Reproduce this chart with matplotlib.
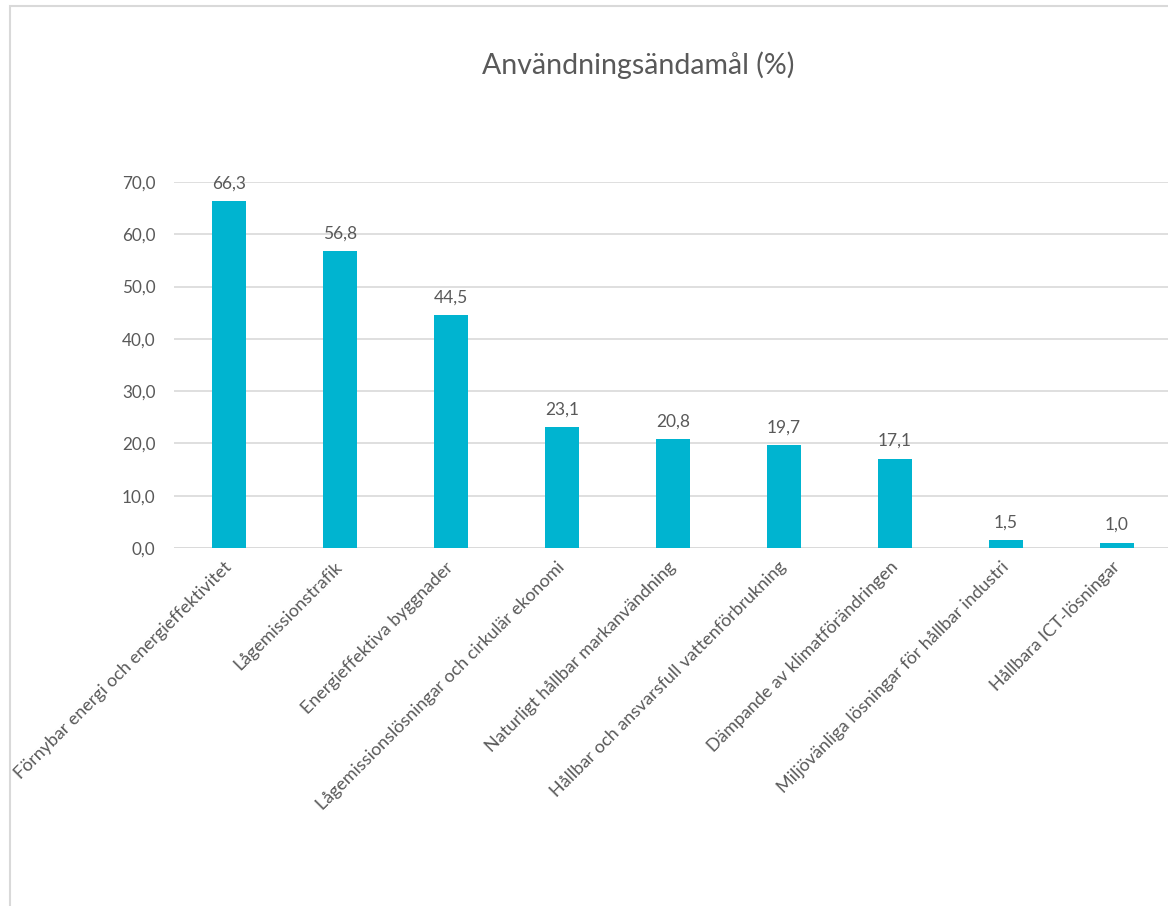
import matplotlib.pyplot as plt
from matplotlib.patches import Rectangle

categories = [
    "Förnybar energi och energieffektivitet",
    "Lågemissionstrafik",
    "Energieffektiva byggnader",
    "Lågemissionslösningar och cirkulär ekonomi",
    "Naturligt hållbar markanvändning",
    "Hållbar och ansvarsfull vattenförbrukning",
    "Dämpande av klimatförändringen",
    "Miljövänliga lösningar för hållbar industri",
    "Hållbara ICT-lösningar",
]
values = [66.3, 56.8, 44.5, 23.1, 20.8, 19.7, 17.1, 1.5, 1.0]
yticks = [0, 10, 20, 30, 40, 50, 60, 70]

plt.rcParams['font.family'] = ['Lato', 'DejaVu Sans']
grey = "#595959"

fig = plt.figure(figsize=(11.68, 9.06), dpi=100)
# chart border (left/top visible)
fig.patches.append(Rectangle((10 / 1168, -0.1), 1.2, 1.1 - 6 / 906, transform=fig.transFigure,
                             fill=False, edgecolor="#D9D9D9", linewidth=1.5))

ax = fig.add_axes([173.5 / 1168, 1 - 548 / 906, 999 / 1168, 366 / 906])
x = range(len(categories))
bars = ax.bar(x, values, width=0.31, color="#00B4D0", zorder=3)
for b, v in zip(bars, values):
    ax.annotate(f"{v:.1f}".replace(".", ","), (b.get_x() + b.get_width() / 2, v),
                xytext=(0, 7), textcoords="offset points", ha="center", va="bottom",
                fontsize=12.5, color=grey)

ax.set_xlim(-0.5, len(categories) - 0.5)
ax.set_ylim(0, 70)
ax.set_yticks(yticks)
ax.set_yticklabels([f"{t:.1f}".replace(".", ",") for t in yticks], fontsize=12.3, color=grey)
ax.set_xticks(list(x))
ax.set_xticklabels(categories, rotation=45, ha="right", va="center", rotation_mode="anchor",
                   fontsize=12.9, color=grey)
ax.tick_params(axis="both", length=0)
ax.tick_params(axis="y", pad=13)
ax.tick_params(axis="x", pad=12)
ax.grid(axis="y", color="#D9D9D9", linewidth=1.2, zorder=0)
for s in ax.spines.values():
    s.set_visible(False)
ax.axhline(0, color="#D9D9D9", linewidth=1.2, zorder=2)

fig.text(638 / 1168, 1 - 65 / 906, "Användningsändamål (%)", ha="center", va="center",
         fontsize=20.5, color=grey)

fig.savefig("out.png", dpi=100)
